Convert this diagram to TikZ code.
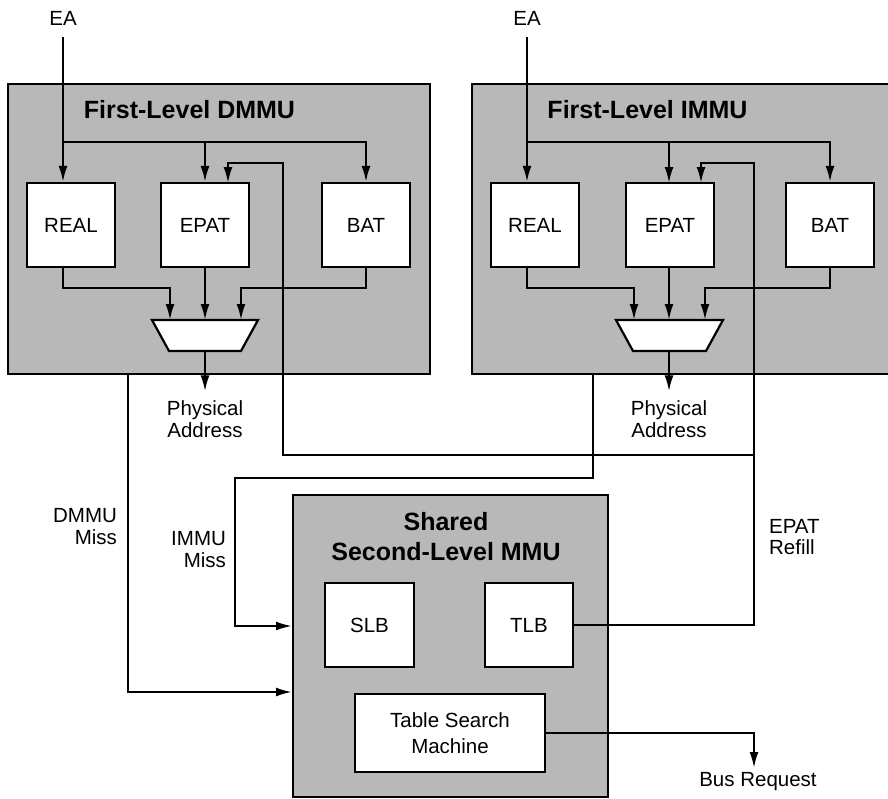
\documentclass[tikz,border=0pt]{standalone}
\usepackage{fontspec}
\setmainfont{Liberation Sans}
\usetikzlibrary{arrows.meta,calc}
\definecolor{panel}{gray}{0.72}
\begin{document}
\begin{tikzpicture}[x=1pt,y=-1pt,line width=2.2pt,
  wire/.style={line width=2.2pt},
  arr/.style={wire,-{Latex[length=16pt,width=9pt]}},
  panelbox/.style={draw,fill=panel,line width=2.2pt,inner sep=0pt,anchor=north west},
  unit/.style={draw,fill=white,line width=2.2pt,inner sep=0pt,
    minimum width=88pt,minimum height=84pt,font=\fontsize{20.5}{22}\selectfont},
  lbl/.style={inner sep=0pt,align=center,font=\fontsize{20.5}{21.5}\selectfont},
  heading/.style={inner sep=0pt,align=center,font=\bfseries\fontsize{25}{30}\selectfont},
  muxshape/.style={draw,fill=white,line width=2.2pt,line join=miter}]
\useasboundingbox (0,0) rectangle (888,798);

% ---------- panels ----------
\node[panelbox,minimum width=422pt,minimum height=290pt] (dmmu) at (7,83) {};
\node[panelbox,minimum width=430pt,minimum height=290pt] (immu) at (471,83) {};
\node[panelbox,minimum width=315pt,minimum height=302pt] (shared) at (292,494) {};

\node[heading] (dtitle) at (189.5,110) {First-Level DMMU};
\node[heading] (ititle) at (647.5,110) {First-Level IMMU};
\node[heading] (stitle) at (446,537) {Shared\\Second-Level MMU};

% ---------- first-level DMMU ----------
\node[lbl] (ea1) at (63,18) {EA};
\node[unit] (real1) at (71,225) {REAL};
\node[unit] (epat1) at (205,225) {EPAT};
\node[unit] (bat1) at (366,225) {BAT};
\coordinate (ea1s) at (63,37);
\coordinate (bus1) at (63,142);
\coordinate (epat1in) at (228,183);
\coordinate (m1a) at (170,320);
\coordinate (m1b) at (205,320);
\coordinate (m1c) at (241,320);
\coordinate (m1o) at (205,351);
\draw[muxshape] (152,320) -- (258,320) -- (241,351) -- (169,351) -- cycle;
\node[lbl,font=\fontsize{20.5}{22}\selectfont] (pa1) at (205,419) {Physical\\Address};

\draw[arr] (ea1s) -- (ea1s |- real1.north);
\draw[arr] (bus1) -| (epat1.north);
\draw[arr] (bus1) -| (bat1.north);
\draw[arr] (real1.south -| ea1s) -- ++(0,20) -| (m1a);
\draw[arr] (epat1.south) -- (m1b);
\draw[arr] (bat1.south) -- ++(0,20) -| (m1c);
\draw[arr,shorten >=8pt] (m1o) -- (pa1.north);

% ---------- first-level IMMU ----------
\node[lbl] (ea2) at (527,18) {EA};
\node[unit] (real2) at (535,225) {REAL};
\node[unit] (epat2) at (670,225) {EPAT};
\node[unit] (bat2) at (830,225) {BAT};
\coordinate (ea2s) at (527,37);
\coordinate (bus2) at (527,142);
\coordinate (epat2top) at (669,183);
\coordinate (epat2in) at (701,183);
\coordinate (m2a) at (634,320);
\coordinate (m2b) at (669,320);
\coordinate (m2c) at (705,320);
\coordinate (m2o) at (669,351);
\draw[muxshape] (616,320) -- (723,320) -- (706,351) -- (633,351) -- cycle;
\node[lbl,font=\fontsize{20.5}{22}\selectfont] (pa2) at (669,419) {Physical\\Address};

\draw[arr] (ea2s) -- (ea2s |- real2.north);
\draw[arr] (bus2) -| (epat2top);
\draw[arr] (bus2) -| (bat2.north);
\draw[arr] (real2.south -| ea2s) -- ++(0,20) -| (m2a);
\draw[arr] (epat2.south -| m2b) -- (m2b);
\draw[arr] (bat2.south) -- ++(0,20) -| (m2c);
\draw[arr,shorten >=8pt] (m2o) -- (pa2.north);

% ---------- shared second-level MMU ----------
\node[unit,minimum width=89pt] (slb) at (369.5,625) {SLB};
\node[unit] (tlb) at (529,625) {TLB};
\node[unit,minimum width=190pt,minimum height=78pt,align=center,
  font=\fontsize{20.5}{26.5}\selectfont] (tsm) at (450,733) {Table Search\\Machine};

% ---------- miss paths ----------
\coordinate (dmiss) at (128,373);
\coordinate (dmin) at (292,692);
\coordinate (imiss) at (593,373);
\coordinate (imturn) at (235,478);
\coordinate (imin) at (292,626);
\draw[arr] (dmiss) |- (dmin);
\draw[arr] (imiss) |- (imturn) |- (imin);
\node[lbl,align=right,anchor=east] (dmlbl) at (118,526.5) {DMMU\\Miss};
\node[lbl,align=right,anchor=east] (imlbl) at (227,549.5) {IMMU\\Miss};

% ---------- EPAT refill paths ----------
\coordinate (rfturn2) at (754,163);
\coordinate (rfsplit) at (754,455);
\coordinate (rfturn1) at (283,163);
\draw[arr] (tlb.east) -| (rfturn2) -| (epat2in);
\draw[arr] (rfsplit) -| (rfturn1) -| (epat1in);
\node[lbl,align=left,anchor=west] (rflbl) at (768,537) {EPAT\\Refill};

% ---------- bus request ----------
\coordinate (breq) at (754,768);
\draw[arr] (tsm.east) -| (breq);
\node[lbl] (buslbl) at (758,782) {Bus Request};
\end{tikzpicture}
\end{document}
